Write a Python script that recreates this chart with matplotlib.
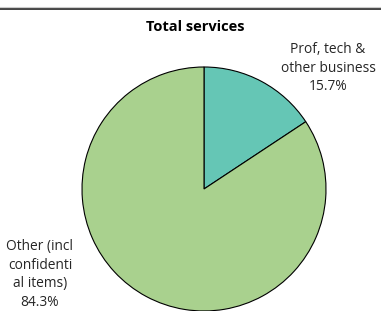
import matplotlib.pyplot as plt
from matplotlib.lines import Line2D

labels = ['Prof, tech &\nother business', 'Other (incl\nconfidenti\nal items)']
shares = [15.7, 84.3]
colors = ['#65C6B5', '#A9D18E']

fig = plt.figure(figsize=(3.81, 3.11), dpi=100)
fig.patch.set_facecolor('white')
plt.rcParams['font.family'] = ['Open Sans', 'DejaVu Sans']

# pie axes: centre at (204,189) px, radius 122 px
ax = fig.add_axes([82 / 381, 0.0, 244 / 381, 244 / 311])
ax.pie(shares, colors=colors, startangle=90, counterclock=False,
       wedgeprops=dict(edgecolor='black', linewidth=0.8))
ax.set_xlim(-1, 1)
ax.set_ylim(-1, 1)
ax.set_aspect('equal')
ax.axis('off')

# data labels
pos = [(1.016, 0.99), (-1.345, -0.70)]
for lab, val, (x, y) in zip(labels, shares, pos):
    ax.text(x, y, lab + '\n' + '%.1f%%' % val, ha='center', va='center',
            fontsize=9.9, linespacing=1.33, color='#262626', clip_on=False)

fig.text(195 / 381, 1 - 27 / 311, 'Total services', ha='center', va='center',
         fontsize=10.5, fontweight='bold', color='black')

# top border
fig.add_artist(Line2D([0, 1], [1 - 8.5 / 311, 1 - 8.5 / 311], color='#222222',
                      linewidth=1.2, transform=fig.transFigure))
fig.add_artist(Line2D([0, 1], [1 - 7 / 311, 1 - 7 / 311], color='#cccccc',
                      linewidth=0.8, transform=fig.transFigure))

fig.savefig('out.png', dpi=100)
